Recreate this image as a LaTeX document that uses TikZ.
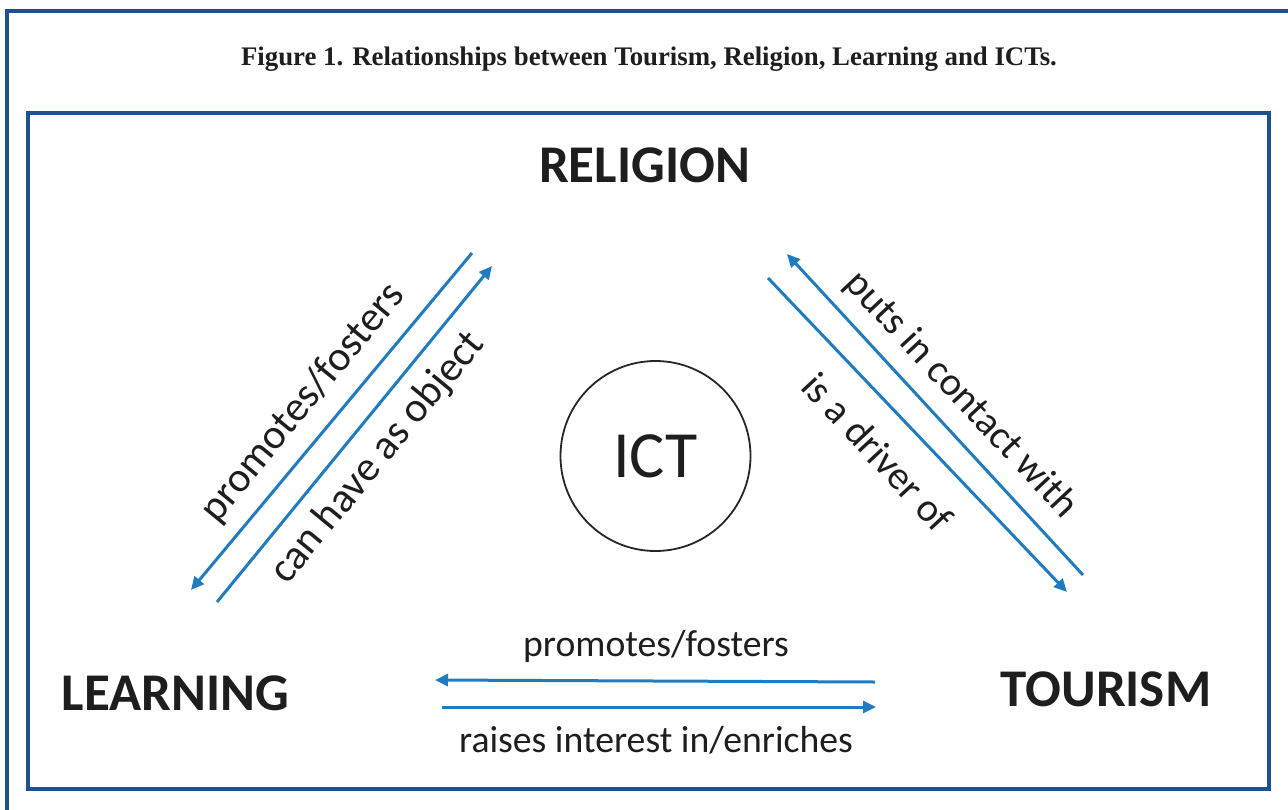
\documentclass[tikz,border=0pt]{standalone}
\usepackage{fontspec}
\setmainfont{Liberation Serif}
\newfontfamily\calfont{Carlito}
\usetikzlibrary{arrows.meta}
\definecolor{framecol}{RGB}{28,82,145}
\definecolor{arrcol}{RGB}{31,124,193}
\definecolor{txtcol}{RGB}{30,30,30}
\tikzset{
  framebox/.style={draw=framecol, line width=3.4pt},
  bigword/.style={font=\calfont\bfseries\fontsize{53}{60}\selectfont, text=txtcol, anchor=base, inner sep=0pt},
  rellabel/.style={font=\calfont\fontsize{37.7}{44}\selectfont, text=txtcol, inner sep=0pt},
  diaglabel/.style={font=\calfont\fontsize{42}{48}\selectfont, text=txtcol, inner sep=0pt},
  diaglabelr/.style={font=\calfont\fontsize{40}{46}\selectfont, text=txtcol, inner sep=0pt},
  relarrow/.style={draw=arrcol, line width=3pt, -{Triangle[length=13pt,width=12pt]}},
}
\begin{document}
\begin{tikzpicture}[x=1pt,y=-1pt]
\useasboundingbox (0,0) rectangle (1288,809);
\begin{scope}
\clip (0,0) rectangle (1288,809);
\draw[framebox] (7,11) rectangle (1300,820);
\end{scope}
\draw[framebox] (28,113) rectangle (1269,789);

\node[anchor=base, font=\bfseries\fontsize{26.8}{30}\selectfont, text=txtcol, inner sep=0pt] (title) at (649,65) {Figure 1. Relationships between Tourism, Religion, Learning and ICTs.};

\node[bigword] (religion) at (644.5,182) {RELIGION};
\node[bigword] (learning) at (175.5,710) {LEARNING};
\node[bigword] (tourism) at (1106,706) {TOURISM};

\node[draw=black!85, line width=1.8pt, circle, minimum size=190pt, inner sep=0pt] (ict) at (655.5,456) {};
\node[font=\calfont\fontsize{66}{72}\selectfont, text=txtcol, inner sep=0pt] (icttext) at (ict.center) {ICT};

% left pair
\coordinate (l1s) at (472,253);
\coordinate (l1e) at (191,590);
\coordinate (l2s) at (217,602);
\coordinate (l2e) at (492,266);
\draw[relarrow] (l1s) -- (l1e);
\draw[relarrow] (l2s) -- (l2e);
\node[diaglabel, rotate=50.5] (lab1) at (303,403) {promotes/fosters};
\node[diaglabel, rotate=50.5] (lab2) at (378,458) {can have as object};

% right pair
\coordinate (r1s) at (1083,575);
\coordinate (r1e) at (787,254);
\coordinate (r2s) at (768,278);
\coordinate (r2e) at (1067,592);
\draw[relarrow] (r1s) -- (r1e);
\draw[relarrow] (r2s) -- (r2e);
\node[diaglabelr, rotate=-47] (lab3) at (961,395) {puts in contact with};
\node[diaglabelr, rotate=-47] (lab4) at (878,452) {is a driver of};

% bottom pair
\coordinate (b1s) at (875,682);
\coordinate (b1e) at (435,680);
\coordinate (b2s) at (442,707);
\coordinate (b2e) at (876,707);
\draw[relarrow] (b1s) -- (b1e);
\draw[relarrow] (b2s) -- (b2e);
\node[rellabel, anchor=base] (lab5) at (656,656) {promotes/fosters};
\node[rellabel, anchor=base] (lab6) at (656,752) {raises interest in/enriches};
\end{tikzpicture}
\end{document}
